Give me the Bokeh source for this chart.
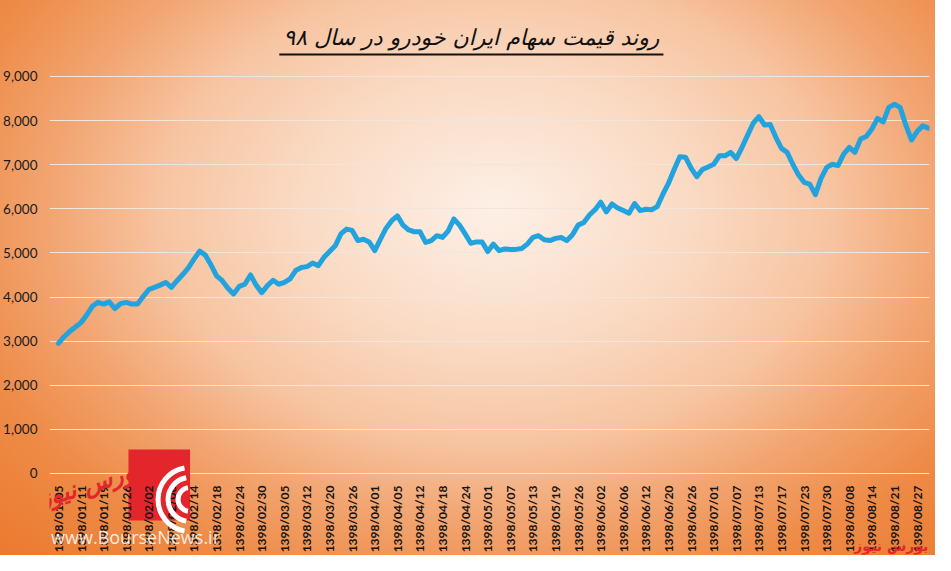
import math
from bokeh.plotting import figure
from bokeh.models import (FixedTicker, NumeralTickFormatter, Label, BoxAnnotation,
                          InlineStyleSheet, ColumnDataSource)
from bokeh.core.properties import value
from bokeh.embed import file_html
from bokeh.resources import INLINE

title_text = "روند قیمت سهام ایران خودرو در سال ۹۸"

tick_labels = [
    "1398/01/05", "1398/01/11", "1398/01/19", "1398/01/26",
    "1398/02/02", "1398/02/08", "1398/02/14", "1398/02/18", "1398/02/24", "1398/02/30",
    "1398/03/05", "1398/03/12", "1398/03/20", "1398/03/26",
    "1398/04/01", "1398/04/05", "1398/04/12", "1398/04/18", "1398/04/24",
    "1398/05/01", "1398/05/07", "1398/05/13", "1398/05/19", "1398/05/26",
    "1398/06/02", "1398/06/06", "1398/06/12", "1398/06/20", "1398/06/26",
    "1398/07/01", "1398/07/07", "1398/07/13", "1398/07/17", "1398/07/23", "1398/07/30",
    "1398/08/08", "1398/08/14", "1398/08/21", "1398/08/27",
]
label_every = 4  # one date label per 4 trading days

price = [
    2950, 3100, 3220, 3320, 3420, 3590, 3790, 3880, 3840, 3890,
    3740, 3850, 3880, 3840, 3840, 4010, 4170, 4220, 4270, 4330,
    4220, 4370, 4510, 4660, 4860, 5040, 4950, 4730, 4480, 4370,
    4200, 4070, 4240, 4290, 4500, 4270, 4100, 4260, 4380, 4290,
    4330, 4410, 4600, 4670, 4690, 4770, 4710, 4900, 5030, 5160,
    5430, 5540, 5510, 5280, 5310, 5250, 5050, 5310, 5560, 5730,
    5840, 5630, 5520, 5480, 5480, 5240, 5280, 5390, 5350, 5500,
    5770, 5630, 5430, 5220, 5250, 5250, 5030, 5200, 5050, 5090,
    5080, 5080, 5100, 5200, 5350, 5390, 5300, 5280, 5330, 5350,
    5280, 5410, 5630, 5690, 5860, 5980, 6150, 5930, 6110, 6020,
    5960, 5900, 6120, 5960, 5990, 5980, 6050, 6330, 6580, 6890,
    7180, 7170, 6920, 6730, 6890, 6950, 7010, 7200, 7200, 7280,
    7140, 7390, 7670, 7940, 8090, 7900, 7910, 7620, 7370, 7280,
    7010, 6770, 6600, 6560, 6320, 6690, 6940, 7010, 6980, 7240,
    7390, 7280, 7580, 7640, 7810, 8050, 7970, 8300, 8370, 8300,
    7900, 7560, 7750, 7880, 7830,
]

y_ticks = [0, 1000, 2000, 3000, 4000, 5000, 6000, 7000, 8000, 9000]

idx = list(range(len(price)))
src = ColumnDataSource(data=dict(x=idx, y=price))

bg = InlineStyleSheet(css=""":host {
  background: radial-gradient(ellipse farthest-corner at 53% 38%,
     #FDF0E7 0%, #FADAC3 28%, #F7C4A1 48%, #F2A470 64%, #EE8B47 80%, #EB7A2E 100%);
}""")

# the frame reaches above 9,000 (title) and below 0 (date labels, watermark);
# the x axis is pinned at 0
p = figure(width=935, height=555, output_backend="svg", toolbar_location=None,
           x_range=(-1.58, len(price) - 0.8), y_range=(-1859, 10450),
           min_border_left=40, min_border_right=6, min_border_top=12,
           min_border_bottom=0, stylesheets=[bg])
p.border_fill_alpha = 0
p.background_fill_alpha = 0
p.outline_line_color = None

# watermark logo (behind the chart)
p.add_layout(BoxAnnotation(left=12.4, right=23.3, top=544, bottom=-1066,
                           fill_color="#E3262B", fill_alpha=1, line_color=None,
                           level="underlay"))
p.arc(x=[23.3, 23.3, 23.3], y=[-589, -589, -589], radius=[12, 22, 32],
      radius_units="screen", start_angle=math.radians(100), end_angle=math.radians(260),
      line_color="white", line_width=5, level="overlay")

p.line("x", "y", source=src, line_color="#22A3DE", line_width=5,
       line_join="round", line_cap="round")

# axes
p.xaxis.fixed_location = 0
p.xaxis.ticker = FixedTicker(ticks=[i * label_every for i in range(len(tick_labels))])
p.xaxis.major_label_overrides = {i * label_every: t for i, t in enumerate(tick_labels)}
p.xaxis.major_label_orientation = math.pi / 2
p.xaxis.major_label_text_font = "Lato"
p.xaxis.major_label_text_font_style = "bold"
p.xaxis.major_label_text_font_size = "12px"
p.xaxis.major_label_text_color = "#141414"
p.xaxis.major_label_standoff = 6
p.xaxis.axis_line_color = None
p.xaxis.major_tick_line_color = None
p.xaxis.minor_tick_line_color = None

p.yaxis.ticker = FixedTicker(ticks=y_ticks)
p.yaxis.formatter = NumeralTickFormatter(format="0,0")
p.yaxis.major_label_text_font = "Lato"
p.yaxis.major_label_text_font_size = "13.5px"
p.yaxis.major_label_text_color = "#1a1a1a"
p.yaxis.major_label_standoff = 6
p.yaxis.axis_line_color = None
p.yaxis.major_tick_line_color = None
p.yaxis.minor_tick_line_color = None

p.xgrid.grid_line_color = None
p.ygrid.grid_line_color = "#F1E6DE"
p.ygrid.grid_line_width = 1

# title (Persian) with underline, in the space above the 9,000 line
p.text(x=[73.1], y=[9890], text=[title_text], text_font=value("DejaVu Sans"),
       text_font_size="22px", text_color="#111111", text_align="center",
       text_baseline="middle", text_font_style="italic")
p.segment(x0=[39.1], y0=[9500], x1=[107.1], y1=[9500], line_color="#111111",
          line_width=2)

# watermark texts
p.add_layout(Label(x=5.6, y=-250, text="بورس نیوز", angle=0.3,
                   text_font="DejaVu Sans", text_font_size="24px", text_color="#E3262B",
                   text_font_style="bold italic", text_align="center",
                   text_baseline="middle", level="overlay"))
p.add_layout(Label(x=-1.3, y=-1450, text="www.BourseNews.ir",
                   text_font="Open Sans", text_font_size="18px", text_color="white",
                   text_alpha=0.85, text_align="left", text_baseline="middle",
                   level="overlay"))
p.add_layout(Label(x=154.0, y=-1640, text="بورس نیوز",
                   text_font="DejaVu Sans", text_font_size="14px", text_color="#E3262B",
                   text_font_style="bold", text_align="right", text_baseline="middle",
                   level="overlay"))

open("out.html", "w").write(file_html(p, INLINE))
